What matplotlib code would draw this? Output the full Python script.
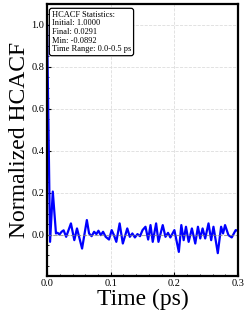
import matplotlib
matplotlib.use('Agg')
import matplotlib.pyplot as plt
from matplotlib.ticker import MultipleLocator

plt.rcParams['font.family'] = ['Liberation Serif', 'DejaVu Serif']

# HCACF (time in ps, normalized)
time_ps = [0.0, 0.0047, 0.009, 0.014, 0.0165, 0.0195, 0.0228, 0.026, 0.030,
           0.0375, 0.0428, 0.047, 0.055, 0.0625, 0.066, 0.070, 0.0739, 0.0775,
           0.0807, 0.0843, 0.088, 0.0921, 0.0973, 0.1015, 0.105, 0.1088, 0.114,
           0.119, 0.126, 0.130, 0.134, 0.138, 0.142, 0.146, 0.150, 0.1546,
           0.1588, 0.1625, 0.166, 0.1713, 0.175, 0.1817, 0.186, 0.190, 0.1937,
           0.200, 0.203, 0.207, 0.2109, 0.2146, 0.2182, 0.2224, 0.2275, 0.2328,
           0.237, 0.2406, 0.2443, 0.2484, 0.2536, 0.2578, 0.2614, 0.2682,
           0.2734, 0.2765, 0.2796, 0.2849, 0.2901, 0.2963, 0.302]
hcacf = [1.0, -0.035, 0.205, 0.005, 0.008, 0.0, 0.013, 0.02, -0.011,
         0.053, -0.027, 0.029, -0.067, 0.069, 0.005, -0.008, 0.013, 0.002,
         0.018, -0.003, 0.013, -0.011, -0.024, 0.021, -0.003, -0.035, 0.053,
         -0.043, 0.029, -0.011, 0.005, -0.014, 0.002, -0.008, 0.021, 0.037,
         -0.024, 0.045, -0.035, 0.053, -0.035, 0.045, -0.011, 0.008, -0.014,
         0.021, -0.024, -0.083, 0.045, -0.027, 0.037, -0.035, 0.029, -0.043,
         0.037, -0.019, 0.029, -0.019, 0.053, -0.027, 0.037, -0.089,
         0.037, 0.005, 0.045, -0.003, -0.014, 0.021, 0.015]

stats = ['HCACF Statistics:', 'Initial: 1.0000', 'Final: 0.0291',
         'Min: -0.0892', 'Time Range: 0.0-0.5 ps']

fig = plt.figure(figsize=(2.49, 3.2), dpi=100)
ax = fig.add_axes([0.189, 0.1375, 0.767, 0.85])

ax.plot(time_ps, hcacf, color='#0000ff', lw=1.6)
ax.axhline(0, color='gray', ls='--', lw=0.8, alpha=0.7)

ax.set_xlim(0, 0.3)
ax.set_ylim(-0.198, 1.1)
ax.xaxis.set_major_locator(MultipleLocator(0.1))
ax.xaxis.set_minor_locator(MultipleLocator(0.02))
ax.yaxis.set_major_locator(MultipleLocator(0.2))
ax.yaxis.set_minor_locator(MultipleLocator(0.05))
ax.tick_params(which='both', direction='in', labelsize=7.5, pad=2)
ax.tick_params(which='major', length=3, width=0.8)
ax.tick_params(which='minor', length=1.5, width=0.6)
ax.grid(True, ls='--', color='#dddddd', lw=0.6)
for s in ax.spines.values():
    s.set_linewidth(1.6)

ax.set_xlabel('Time (ps)', fontsize=17, labelpad=1)
ax.set_ylabel('Normalized HCACF', fontsize=17, labelpad=1)

ax.text(0.025, 0.975, '\n'.join(stats), transform=ax.transAxes, fontsize=6,
        va='top', ha='left', linespacing=1.1,
        bbox=dict(boxstyle='round,pad=0.3', fc='white', ec='black', lw=0.9))

fig.savefig('out.png', dpi=100)
